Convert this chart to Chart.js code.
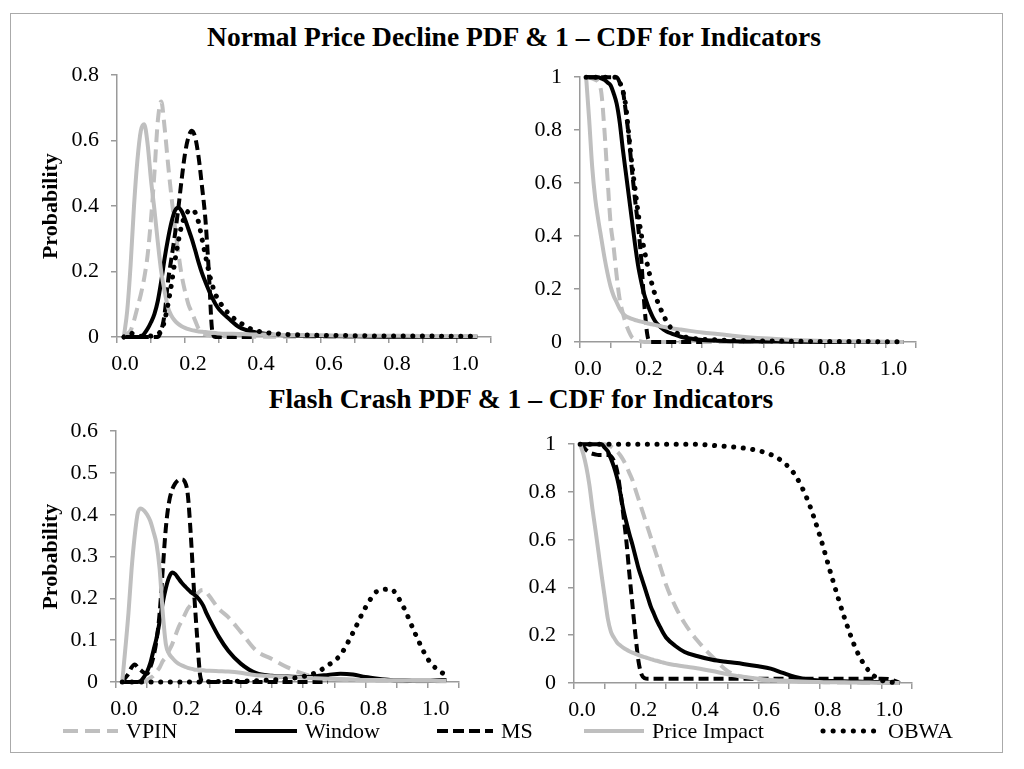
<!DOCTYPE html>
<html>
<head>
<meta charset="utf-8">
<script src="https://cdn.jsdelivr.net/npm/chart.js@4.4.0/dist/chart.umd.min.js"></script>
<style>
  body { margin: 0; background: #fff; }
  #wrap { position: relative; width: 1024px; height: 769px; font-family: "Liberation Serif", serif; color: #000; }
  #frame { position: absolute; left: 10px; top: 13px; width: 993px; height: 740px; border: 1.5px solid #aaa; box-sizing: border-box; }
  canvas { position: absolute; }
  .title { position: absolute; font-weight: bold; font-size: 27.5px; line-height: 30px; white-space: nowrap; transform: translateX(-50%); }
  .leg { position: absolute; top: 717px; height: 28px; font-size: 22px; line-height: 28px; display: flex; align-items: center; white-space: nowrap; }
  .leg svg { margin-right: 8px; }
</style>
</head>
<body>
<div id="wrap">
  <div id="frame"></div>
  <div class="title" style="left:514px; top:22px;">Normal Price Decline PDF &amp; 1 – CDF for Indicators</div>
  <div class="title" style="left:521px; top:384px;">Flash Crash PDF &amp; 1 – CDF for Indicators</div>

  <canvas id="normalPdf" width="471" height="327" style="left:30px; top:50px;"></canvas>
  <canvas id="normalCdf" width="406" height="330" style="left:520px; top:52px;"></canvas>
  <canvas id="flashPdf" width="439" height="316" style="left:30px; top:406px;"></canvas>
  <canvas id="flashCdf" width="408" height="304" style="left:514px; top:419px;"></canvas>

  <div class="leg" style="left:62px;"><svg width="56" height="10"><line x1="1" y1="5" x2="56" y2="5" stroke="#bfbfbf" stroke-width="4" stroke-dasharray="15 7"/></svg>VPIN</div>
  <div class="leg" style="left:235px;"><svg width="62" height="10"><line x1="0" y1="5" x2="62" y2="5" stroke="#000" stroke-width="4"/></svg>Window</div>
  <div class="leg" style="left:437px;"><svg width="56" height="10"><line x1="0" y1="5" x2="56" y2="5" stroke="#000" stroke-width="4" stroke-dasharray="11 5"/></svg>MS</div>
  <div class="leg" style="left:584px;"><svg width="60" height="10"><line x1="0" y1="5" x2="60" y2="5" stroke="#bfbfbf" stroke-width="4"/></svg>Price Impact</div>
  <div class="leg" style="left:820px;"><svg width="60" height="10"><line x1="3" y1="5" x2="56" y2="5" stroke="#000" stroke-width="5" stroke-linecap="round" stroke-dasharray="0.1 10"/></svg>OBWA</div>
</div>

<script>
// x grids (indicator value)
const xNormal = [0.02,0.03,0.04,0.05,0.06,0.07,0.08,0.09,0.10,0.11,0.12,0.13,0.14,0.15,0.16,0.17,0.18,0.19,0.20,0.21,
  0.22,0.23,0.24,0.25,0.26,0.27,0.28,0.29,0.30,0.33,0.36,0.40,0.45,0.50,0.60,0.70,0.80,0.90,1.00,1.06];
const xFlash = [0.02,0.03,0.04,0.05,0.06,0.07,0.08,0.09,0.10,0.11,0.12,0.13,0.14,0.15,0.16,0.17,0.18,0.19,0.20,0.21,
  0.22,0.23,0.24,0.25,0.26,0.27,0.28,0.29,0.30,0.33,0.36,0.40,0.45,0.50,0.55,0.60,0.64,0.68,0.72,0.76,
  0.80,0.84,0.88,0.92,0.96,1.00,1.03,1.06];

// Normal price decline - PDF
const vpinNormalPdf = [0,0.01,0.02,0.05,0.09,0.13,0.18,0.25,0.36,0.50, 0.66,0.72,0.64,0.53,0.43,0.34,0.26,0.19,0.14,0.10,
  0.075,0.05,0.025,0.012,0.008,0.005,0.004,0.003,0.003, 0.002,0.002,0.001,0.001,0.001,0,0,0,0,0,0];
const windowNormalPdf = [0,0,0,0,0,0,0.01,0.025,0.045,0.07, 0.11,0.17,0.24,0.30,0.35,0.385,0.395,0.385,0.36,0.33,
  0.30,0.265,0.228,0.195,0.168,0.143,0.12,0.10,0.085, 0.055,0.03,0.016,0.008,0.005,0.003,0.002,0.001,0.001,0.001,0.001];
const msNormalPdf = [0,0,0,0,0,0,0,0,0,0, 0,0.02,0.07,0.17,0.24,0.31,0.39,0.48,0.56,0.61,
  0.63,0.61,0.55,0.46,0.36,0.20,0.02,0,0, 0,0,0,null,null,null,null,null,null,null,null];
const priceNormalPdf = [0,0.08,0.22,0.40,0.54,0.63,0.65,0.59,0.48,0.39, 0.29,0.20,0.14,0.09,0.065,0.05,0.04,0.033,0.028,0.024,
  0.021,0.019,0.017,0.016,0.015,0.014,0.013,0.012,0.011, 0.01,0.009,0.008,0.007,0.006,0.005,0.004,0.004,0.003,0.003,0.003];
const obwaNormalPdf = [0,0.01,0.012,0.008,0.004,0.002,0.002,0.002,0.003,0.005, 0.01,0.02,0.05,0.10,0.16,0.23,0.29,0.34,0.37,0.385,
  0.39,0.38,0.35,0.30,0.25,0.20,0.16,0.13,0.11, 0.07,0.045,0.022,0.012,0.008,0.005,0.004,0.003,0.003,0.002,0.002];

// Normal price decline - 1 - CDF
const vpinNormalCdf = [1,1,0.995,0.99,0.98,0.94,0.80,0.62,0.45,0.36, 0.25,0.16,0.11,0.07,0.04,0.018,0.01,0.005,0.002,0,
  0,0,0,0,0,0,0,0,0, 0,0,0,0,0,0,0,0,0,0,0];
const windowNormalCdf = [1,1,1,1,1,0.995,0.99,0.98,0.97,0.94, 0.90,0.83,0.73,0.64,0.55,0.46,0.37,0.29,0.23,0.18,
  0.145,0.115,0.09,0.072,0.06,0.05,0.042,0.036,0.032, 0.02,0.013,0.008,0.005,0.003,0.002,0.001,0,0,0,0];
const msNormalCdf = [1,1,1,1,1,1,1,1,1,1, 1,0.98,0.95,0.87,0.77,0.65,0.54,0.44,0.32,0.15,
  0.03,0,0,0,0,0,0,0,0, 0,0,0,null,null,null,null,null,null,null,null];
const priceNormalCdf = [1,0.84,0.66,0.54,0.46,0.39,0.32,0.26,0.21,0.175, 0.15,0.125,0.108,0.098,0.092,0.087,0.083,0.08,0.077,0.074,
  0.071,0.068,0.066,0.063,0.061,0.058,0.056,0.054,0.052, 0.047,0.042,0.036,0.03,0.024,0.014,0.008,0.004,0.002,0.001,0];
const obwaNormalCdf = [1,1,1,1,1,1,1,1,1,1, 1,0.98,0.95,0.89,0.78,0.67,0.58,0.49,0.41,0.35,
  0.295,0.245,0.20,0.165,0.135,0.11,0.085,0.065,0.05, 0.025,0.015,0.01,0.008,0.006,0.004,0.003,0.002,0.002,0.001,0.001];

// Flash crash - PDF
const vpinFlashPdf = [0,0,0,0,0,0,0,0,0.005, 0.01,0.015,0.025,0.035,0.05,0.06,0.075,0.09,0.11,0.13,0.145,0.16,0.175,0.185,0.20,0.21,0.218,0.22,0.215,0.205,
  0.175,0.155,0.12,0.075,0.055,0.035,0.02,0.012,0.008,0.006,0.005,0.004,0.003,0.003,0.002,0.002,0.002,0.002,0.002];
const windowFlashPdf = [0,0,0,0,0,0,0.003,0.012,0.025, 0.045,0.075,0.105,0.145,0.19,0.225,0.25,0.262,0.258,0.248,0.238,0.23,0.222,0.215,0.21,0.203,0.194,0.182,0.165,0.15,
  0.108,0.075,0.044,0.021,0.015,0.013,0.012,0.014,0.017,0.02,0.018,0.012,0.008,0.005,0.004,0.003,0.003,0.004,0.005];
const msFlashPdf = [0,0.01,0.02,0.035,0.042,0.035,0.028,0.022,0.02, 0.035,0.06,0.10,0.165,0.27,0.37,0.43,0.46,0.475,0.483,0.485,0.48,0.45,0.35,0.22,0.11,0.015,0,0,0,
  0,0,0,0,0,0,0,0,0,null,null,null,null,null,null,null,null,null,null];
const priceFlashPdf = [0,0.08,0.165,0.27,0.35,0.405,0.415,0.41,0.40, 0.385,0.36,0.33,0.27,0.165,0.09,0.068,0.058,0.05,0.044,0.04,0.037,0.034,0.032,0.03,0.029,0.028,0.028,0.027,0.027,
  0.026,0.025,0.022,0.016,0.014,0.012,0.01,0.009,0.008,0.007,0.006,0.005,0.005,0.004,0.004,0.003,0.003,0.003,0.003];
const obwaFlashPdf = [0,0,0,0,0,0,0,0,0, 0,0,0,0,0,0,0,0,0,0,0,0,0,0,0,0,0,0,0,0.001,
  0.001,0.001,0.002,0.003,0.005,0.008,0.013,0.022,0.04,0.065,0.118,0.178,0.218,0.222,0.182,0.115,0.055,0.03,0.016];

// Flash crash - 1 - CDF
const vpinFlashCdf = [1,1,1,1,1,1,1,1,1, 0.995,0.99,0.98,0.97,0.955,0.935,0.91,0.88,0.85,0.81,0.77,0.73,0.69,0.65,0.61,0.57,0.53,0.49,0.45,0.41,
  0.32,0.25,0.18,0.11,0.05,0.025,0.015,0.01,0.008,0.006,0.005,0.004,0.003,0.002,0.002,0.001,0.001,0,0];
const windowFlashCdf = [1,1,1,1,1,1,1,1,0.985, 0.97,0.94,0.905,0.86,0.80,0.73,0.675,0.625,0.58,0.53,0.48,0.44,0.40,0.36,0.32,0.29,0.26,0.235,0.21,0.19,
  0.155,0.13,0.113,0.097,0.088,0.08,0.07,0.06,0.042,0.025,0.015,0.01,0.008,0.007,0.006,0.005,0.004,0.003,0];
const msFlashCdf = [1,0.99,0.975,0.965,0.96,0.957,0.955,0.955,0.955, 0.955,0.95,0.93,0.89,0.81,0.71,0.60,0.46,0.33,0.20,0.09,0.035,0.02,0.018,0.018,0.018,0.018,0.018,0.018,0.018,
  0.018,0.018,0.018,0.018,0.018,0.018,0.018,0.018,0.018,0.018,0.018,0.018,0.018,0.018,0.018,0.018,0.018,0.015,0];
const priceFlashCdf = [1,0.96,0.905,0.83,0.73,0.64,0.545,0.45,0.36, 0.27,0.215,0.19,0.17,0.158,0.148,0.14,0.133,0.127,0.122,0.117,0.112,0.108,0.104,0.10,0.096,0.093,0.089,0.086,0.082,
  0.075,0.069,0.062,0.05,0.036,0.026,0.018,0.013,0.01,0.007,0.005,0.004,0.003,0.003,0.002,0.002,0.001,0.001,0];
const obwaFlashCdf = [1,1,1,1,1,1,1,1,1, 1,1,1,1,1,1,1,1,1,1,1,1,1,1,1,1,1,1,1,1,
  1,1,1,0.995,0.99,0.984,0.973,0.957,0.926,0.87,0.767,0.617,0.44,0.274,0.135,0.05,0.012,0.004,0];

const seriesNames = ['VPIN', 'Window', 'MS', 'Price Impact', 'OBWA'];
const xTickLabels = ['0.0', '', '0.2', '', '0.4', '', '0.6', '', '0.8', '', '1.0', ''];

const GRAY = '#bfbfbf';
const AXIS = '#9a9a9a';
const FONT = '"Liberation Serif", "Times New Roman", serif';
const lineStyles = [
  { borderColor: GRAY, borderDash: [13, 7], borderWidth: 4, order: 5 },
  { borderColor: '#000', borderDash: [], borderWidth: 4, order: 4 },
  { borderColor: '#000', borderDash: [10, 5], borderWidth: 4, order: 3 },
  { borderColor: GRAY, borderDash: [], borderWidth: 4, order: 2 },
  { borderColor: '#000', borderDash: [0.1, 9.5], borderWidth: 5, borderCapStyle: 'round', order: 1 }
];

function makeChart(id, xs, series, yMax, yStep, yTitle, yWidth, padTop) {
  const datasets = series.map(function (ys, i) {
    return Object.assign({
      label: seriesNames[i],
      data: xs.map(function (x, k) { return { x: x, y: ys[k] }; }),
      pointRadius: 0,
      fill: false,
      cubicInterpolationMode: 'monotone',
      spanGaps: false,
      clip: 8
    }, lineStyles[i]);
  });

  return new Chart(document.getElementById(id), {
    type: 'line',
    data: { datasets: datasets },
    options: {
      responsive: false,
      animation: false,
      layout: { padding: { top: padTop, right: 10, left: 0, bottom: 0 } },
      plugins: { legend: { display: false }, tooltip: { enabled: false } },
      scales: {
        x: {
          type: 'linear',
          min: 0,
          max: 1.1,
          afterFit: function (s) { s.height = 40; },
          border: { display: true, color: AXIS, width: 1.5 },
          grid: { display: true, drawOnChartArea: false, drawTicks: true, tickLength: 6, color: AXIS, lineWidth: 1.5 },
          ticks: {
            stepSize: 0.1,
            autoSkip: false,
            maxRotation: 0,
            padding: 8,
            labelOffset: 8,
            color: '#000',
            font: { family: FONT, size: 22 },
            callback: function (v, i) { return xTickLabels[i]; }
          }
        },
        y: {
          min: 0,
          max: yMax,
          afterFit: function (s) { s.width = yWidth; },
          border: { display: true, color: AXIS, width: 1.5 },
          grid: { display: true, drawOnChartArea: false, drawTicks: true, tickLength: 6, color: AXIS, lineWidth: 1.5 },
          title: {
            display: !!yTitle,
            text: yTitle,
            color: '#000',
            font: { family: FONT, size: 22, weight: 'bold' },
            padding: { top: 8, bottom: 0 }
          },
          ticks: {
            stepSize: yStep,
            padding: 12,
            color: '#000',
            font: { family: FONT, size: 22 },
            callback: function (v) { return String(+v.toFixed(1)); }
          }
        }
      }
    }
  });
}

makeChart('normalPdf', xNormal,
  [vpinNormalPdf, windowNormalPdf, msNormalPdf, priceNormalPdf, obwaNormalPdf], 0.8, 0.2, 'Probability', 87, 16);
makeChart('normalCdf', xNormal,
  [vpinNormalCdf, windowNormalCdf, msNormalCdf, priceNormalCdf, obwaNormalCdf], 1, 0.2, '', 60, 16);
makeChart('flashPdf', xFlash,
  [vpinFlashPdf, windowFlashPdf, msFlashPdf, priceFlashPdf, obwaFlashPdf], 0.6, 0.1, 'Probability', 86, 16);
makeChart('flashCdf', xFlash,
  [vpinFlashCdf, windowFlashCdf, msFlashCdf, priceFlashCdf, obwaFlashCdf], 1, 0.2, '', 60, 16);
</script>
</body>
</html>
